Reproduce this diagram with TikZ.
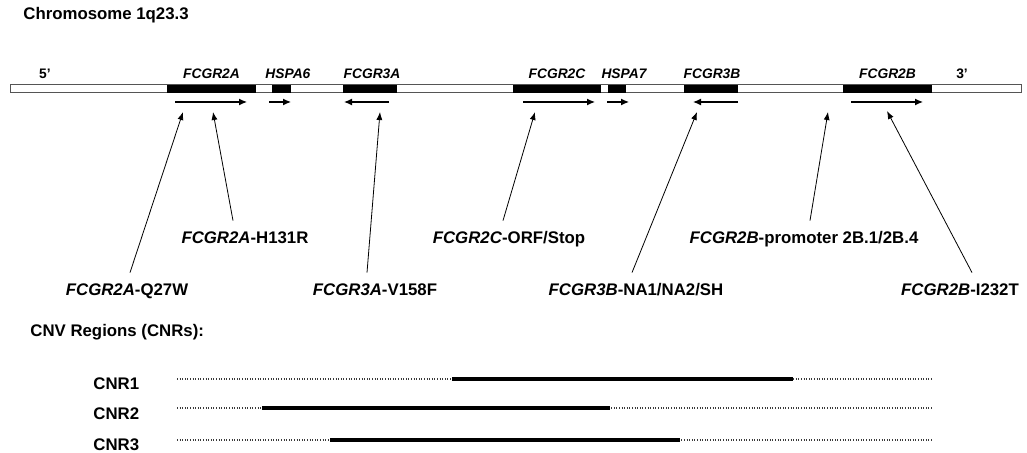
\documentclass[tikz,border=0pt]{standalone}
\usepackage{fontspec}
\setmainfont{Liberation Sans}
\usepackage{tikz}
\usetikzlibrary{arrows.meta,positioning}
\definecolor{BarEdge}{HTML}{555555}
\definecolor{DotGrey}{HTML}{3A3A3A}

\begin{document}
\begin{tikzpicture}[x=0.5pt,y=-0.5pt,
    txt/.style={font=\fontsize{8.4}{10}\selectfont\bfseries,inner sep=0pt},
    genename/.style={font=\fontsize{6.9}{8}\selectfont\bfseries\itshape,inner sep=0pt},
    endmark/.style={font=\fontsize{6.9}{8}\selectfont\bfseries,inner sep=0pt},
    snp/.style={font=\fontsize{8.4}{10}\selectfont\bfseries,anchor=base,
                text height=6pt,text depth=1.5pt,inner xsep=0pt,inner ysep=5.5pt},
    genebox/.style={fill=black,minimum height=4pt,inner sep=0pt},
    strand/.style={-{Latex[length=4pt,width=3.5pt]},line width=0.6pt},
    ptr/.style={-{Latex[length=4pt,width=3pt]},line width=0.4pt},
    cnrdots/.style={DotGrey,line width=0.6pt,dash pattern=on 0.5pt off 0.8pt},
    cnrsolid/.style={line width=2pt}]

    \useasboundingbox (0,0) rectangle (1027,453);

    \node[txt,anchor=west] (title) at (23,15) {Chromosome 1q23.3};

    % chromosome bar and genes
    \draw[BarEdge,line width=0.5pt,fill=white] (10,85) rectangle (1021,93);
    \node[genebox,minimum width=44.5pt] (fcgr2a) at (211.5,89) {};
    \node[genebox,minimum width=9.5pt]  (hspa6)  at (281.5,89) {};
    \node[genebox,minimum width=27pt]   (fcgr3a) at (370,89) {};
    \node[genebox,minimum width=44pt]   (fcgr2c) at (557,89) {};
    \node[genebox,minimum width=9pt]    (hspa7)  at (617,89) {};
    \node[genebox,minimum width=27pt]   (fcgr3b) at (711,89) {};
    \node[genebox,minimum width=44.5pt] (fcgr2b) at (887.5,89) {};

    \node[genename,above=3pt of fcgr2a]               (lfcgr2a) {FCGR2A};
    \node[genename,above=3pt of hspa6,xshift=3.2pt]   (lhspa6)  {HSPA6};
    \node[genename,above=3pt of fcgr3a,xshift=1pt]    (lfcgr3a) {FCGR3A};
    \node[genename,above=3pt of fcgr2c]               (lfcgr2c) {FCGR2C};
    \node[genename,above=3pt of hspa7,xshift=3.5pt]   (lhspa7)  {HSPA7};
    \node[genename,above=3pt of fcgr3b,xshift=0.5pt]  (lfcgr3b) {FCGR3B};
    \node[genename,above=3pt of fcgr2b]               (lfcgr2b) {FCGR2B};
    \node[endmark] (five)  at (45,74)  {5'};
    \node[endmark] (three) at (962,74) {3'};

    % direction of transcription
    \draw[strand] (175,102) -- (247,102);
    \draw[strand] (269,102) -- (291,102);
    \draw[strand] (389,102) -- (344,102);
    \draw[strand] (523,102) -- (595,102);
    \draw[strand] (607,102) -- (629,102);
    \draw[strand] (738,102) -- (693,102);
    \draw[strand] (851,102) -- (923,102);

    % variants
    \coordinate (tq27w)  at (183,112);
    \coordinate (th131r) at (213,112);
    \coordinate (tv158f) at (380,112);
    \coordinate (torf)   at (535,112);
    \coordinate (tna)    at (697,112);
    \coordinate (tprom)  at (828,112);
    \coordinate (ti232t) at (887,111);

    \node[snp] (q27w)  at (127,296) {\textit{FCGR2A}-Q27W};
    \node[snp] (h131r) at (245,244) {\textit{FCGR2A}-H131R};
    \node[snp] (v158f) at (375,296) {\textit{FCGR3A}-V158F};
    \node[snp] (orf)   at (509,244) {\textit{FCGR2C}-ORF/Stop};
    \node[snp] (na)    at (636,296) {\textit{FCGR3B}-NA1/NA2/SH};
    \node[snp] (prom)  at (804,244) {\textit{FCGR2B}-promoter 2B.1/2B.4};
    \node[snp] (i232t) at (960,296) {\textit{FCGR2B}-I232T};

    \draw[ptr] ([xshift=1.5pt]q27w.north) -- (tq27w);
    \draw[ptr] ([xshift=-6pt]h131r.north) -- (th131r);
    \draw[ptr] ([xshift=-4pt]v158f.north) -- (tv158f);
    \draw[ptr] ([xshift=-3pt]orf.north)   -- (torf);
    \draw[ptr] ([xshift=-2pt]na.north)    -- (tna);
    \draw[ptr] ([xshift=3pt]prom.north)   -- (tprom);
    \draw[ptr] ([xshift=6pt]i232t.north)  -- (ti232t);

    % copy number regions
    \node[txt,anchor=west] (cnvhead) at (30,332) {CNV Regions (CNRs):};
    \node[txt,anchor=base west] (cnr1) at (93,390) {CNR1};
    \node[txt,anchor=base west] (cnr2) at (93,420) {CNR2};
    \node[txt,anchor=base west] (cnr3) at (93,451) {CNR3};

    \draw[cnrdots] (177,379) -- (933,379);
    \draw[cnrdots] (177,408) -- (933,408);
    \draw[cnrdots] (177,440) -- (933,440);
    \draw[cnrsolid] (452,379) -- (793,379);
    \draw[cnrsolid] (262,408) -- (610,408);
    \draw[cnrsolid] (330,440) -- (680,440);
\end{tikzpicture}
\end{document}
